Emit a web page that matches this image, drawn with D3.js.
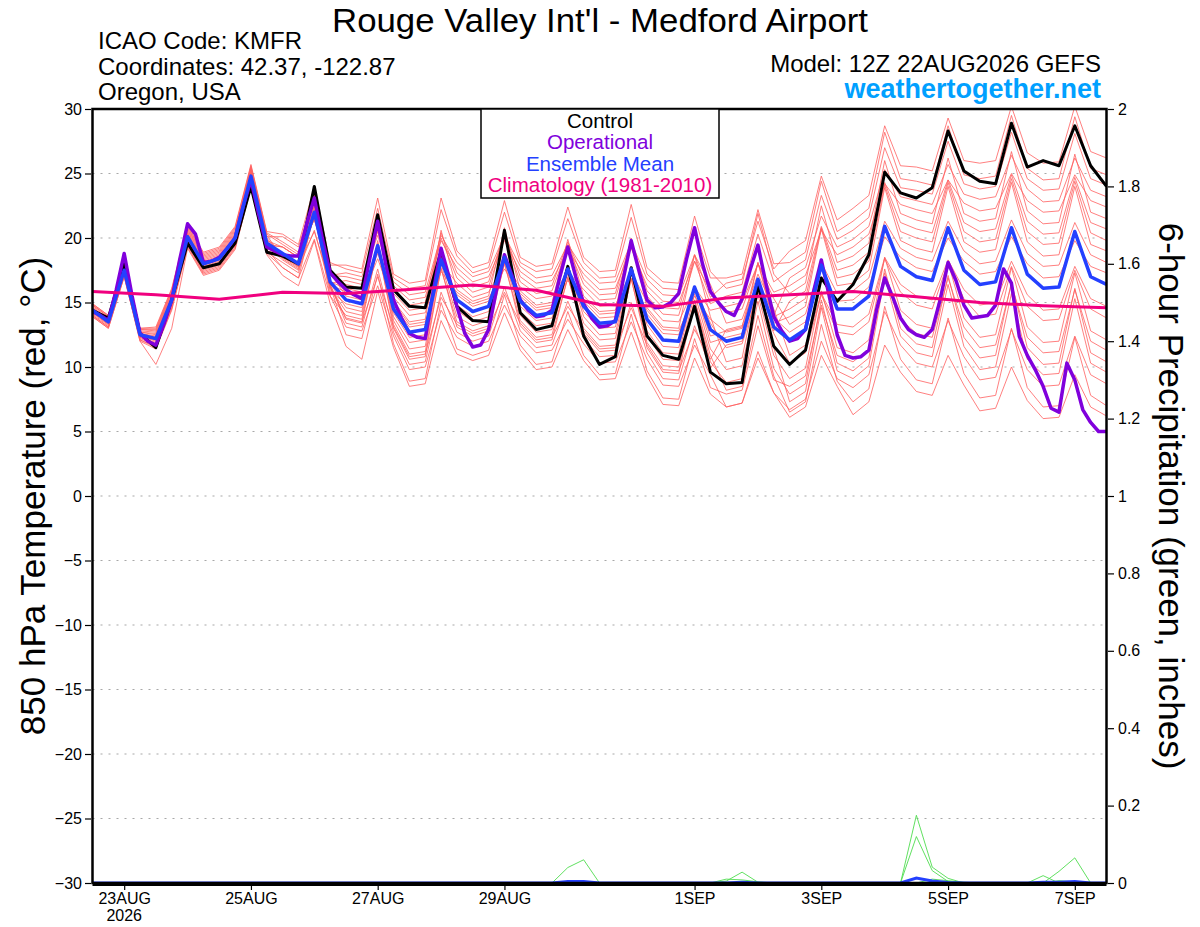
<!DOCTYPE html>
<html>
<head>
<meta charset="utf-8">
<script src="https://cdn.jsdelivr.net/npm/d3@7"></script>
<style>
  body { margin: 0; background: #fff; }
  svg { display: block; font-family: "Liberation Sans", Arial, Helvetica, sans-serif; }
</style>
</head>
<body>
<script>
const runStart = Date.UTC(2026, 7, 22, 12);   // 12Z 22AUG2026
const runEnd = Date.UTC(2026, 8, 7, 12);
const memberStepHours = 6;
const opStepHours = 3;
const climStepHours = 24;

const tickDates = ["2026-08-23", "2026-08-25", "2026-08-27", "2026-08-29",
                   "2026-09-01", "2026-09-03", "2026-09-05", "2026-09-07"];
const tempTicks = [-30, -25, -20, -15, -10, -5, 0, 5, 10, 15, 20, 25, 30];
const precipTicks = [0, 0.2, 0.4, 0.6, 0.8, 1, 1.2, 1.4, 1.6, 1.8, 2];

const controlT = [14.4,13.8,18.0,12.6, 11.5,15.2,19.6,17.7, 18.0,19.6,24.0,18.9, 18.6,18.0,24.0,17.5,
  16.2,16.1,21.8,16.0, 14.7,14.6,19.0,14.7, 13.6,13.5,20.6,14.2, 12.9,13.2,17.8,12.4,
  10.2,10.8,17.7,12.4, 10.9,10.6,14.7,9.6, 8.7,8.8,16.4,11.6, 10.2,11.3,16.9,15.1,
  16.4,18.7,25.1,23.5, 23.1,23.9,28.3,25.2, 24.4,24.2,28.9,25.5, 26.0,25.6,28.7,25.6, 24.0];

// operational run, 3-hourly
const operationalT = [14.3,14.0,13.6,16.0,18.8,15.5,12.6,12.0,11.7,13.3,
  15.2,18.3,21.1,20.3,18.1,18.2,18.5,19.2,20.0,22.4,
  24.5,21.8,19.3,19.0,18.7,18.6,18.6,21.0,23.1,20.0,
  17.3,16.6,16.0,15.6,15.3,18.4,21.3,18.0,15.2,13.8,
  12.6,12.3,12.2,15.8,19.2,17.0,14.7,12.6,11.55,11.7,
  12.9,16.0,18.7,17.0,15.2,14.4,13.9,14.0,14.4,17.0,
  19.3,17.0,14.9,13.8,13.1,13.2,13.6,16.8,19.8,17.4,
  15.2,14.6,14.65,15.0,15.7,18.4,20.8,18.0,15.85,15.0,
  14.3,14.0,15.3,17.5,19.45,16.5,13.9,12.8,12.0,12.2,
  12.9,15.8,18.3,15.5,12.5,10.9,10.7,10.8,11.3,14.5,
  16.9,15.45,13.8,12.9,12.5,12.3,12.9,15.2,18.1,16.7,
  14.8,13.8,13.9,14.0,14.8,17.6,16.5,12.35,10.9,9.8,
  8.5,6.8,6.5,10.3,9.0,6.7,5.7,5.0,5.0];

const meanT = [14.4,13.5,17.5,12.5, 12.2,15.2,20.1,18.0, 18.4,20.0,24.8,19.6, 18.8,18.0,22.0,16.6,
  15.2,14.9,19.4,14.5, 12.7,12.9,18.3,15.2, 14.3,14.7,18.5,15.1, 14.0,14.2,17.6,14.7,
  13.4,13.5,17.6,13.7, 12.1,12.0,16.2,12.9, 12.0,12.3,16.8,13.1, 12.1,12.9,17.9,14.5,
  14.5,15.5,20.9,17.8, 17.0,16.7,20.8,17.5, 16.4,16.6,20.8,17.2, 16.1,16.2,20.5,17.0, 16.4];

// 1981-2010 climatology, daily
const climT = [15.85,15.6,15.25,15.8,15.7,16.0,16.35,15.95,14.85,14.7,15.35,15.6,15.85,15.45,15.0,14.75,14.6];

const member01 = [14.9,14.0,18.0,13.0, 13.1,16.1,21.0,18.9, 19.3,20.9,25.7,20.5, 20.3,19.5,24.0,18.1, 17.6,17.3,22.3,16.9, 16.1,16.3,22.2,18.6, 17.3,17.7,22.0,18.1, 17.4,17.6,21.5,18.1, 16.9,17.0,21.6,17.2, 16.1,16.0,20.7,16.9, 16.9,17.2,22.2,18.0, 18.1,18.9,24.4,20.5, 21.3,22.3,28.2,24.6, 24.4,24.1,28.7,24.9, 24.6,24.8,29.5,25.4, 24.5,24.6,29.4,25.4, 24.9];
const member02 = [13.9,13.0,17.0,12.0, 10.2,13.0,19.2,17.1, 17.5,19.1,23.9,18.7, 17.1,16.3,19.8,14.9, 11.6,10.6,15.9,11.5, 8.5,8.7,13.6,11.0, 10.5,10.9,14.2,11.3, 9.8,10.0,12.9,10.5, 9.0,9.1,12.7,9.3, 7.1,7.0,10.7,7.9, 6.9,7.2,11.2,8.0, 6.7,7.5,12.0,9.1, 8.4,9.4,14.3,11.7, 10.3,10.0,13.6,10.8, 9.0,9.2,12.9,9.8, 8.5,8.6,12.4,9.4, 8.7];
const member03 = [14.7,13.8,17.8,12.8, 12.7,15.7,20.6,18.5, 18.9,20.5,25.3,20.1, 20.1,19.3,23.3,17.9, 17.9,17.6,23.1,17.2, 16.5,16.7,23.1,19.0, 17.7,18.1,22.9,18.5, 17.8,18.0,22.4,18.5, 17.4,17.5,22.6,17.7, 16.6,16.5,21.7,17.4, 16.1,16.4,21.9,17.2, 15.7,16.5,22.5,18.1, 18.6,19.6,26.0,21.9, 21.4,21.1,26.2,21.9, 21.3,21.5,26.7,22.1, 21.1,21.2,26.5,22.0, 21.5];
const member04 = [14.1,13.2,17.2,12.2, 11.7,14.7,19.6,17.5, 17.9,19.5,24.3,19.1, 17.7,16.9,19.9,15.5, 13.1,12.8,16.3,12.4, 9.8,10.0,14.4,12.3, 11.6,12.0,14.8,12.4, 11.1,11.3,13.7,11.8, 10.3,10.4,13.5,10.6, 8.6,8.5,11.7,9.4, 6.9,7.2,10.7,8.0, 6.1,6.9,10.9,8.5, 6.3,7.3,11.7,9.6, 8.1,7.8,10.9,8.6, 6.6,6.8,10.0,7.4, 6.0,6.1,9.4,6.9, 6.2];
const member05 = [14.5,13.6,17.6,12.6, 12.4,15.4,20.3,18.2, 18.6,20.2,25.0,19.8, 19.3,18.5,22.5,17.1, 16.4,16.1,20.6,15.7, 14.4,14.6,20.0,16.9, 15.8,16.2,20.0,16.6, 15.7,15.9,19.3,16.4, 15.2,15.3,19.4,15.5, 14.1,14.0,18.2,14.9, 15.5,15.8,20.3,16.6, 17.5,18.3,23.3,19.9, 20.6,21.6,27.0,23.9, 23.7,23.4,27.5,24.2, 23.8,24.0,28.2,24.6, 23.7,23.8,28.1,24.6, 24.1];
const member06 = [14.3,13.4,17.4,12.4, 12.0,15.0,19.9,17.8, 18.2,19.8,24.6,19.4, 18.3,17.5,22.5,16.1, 14.3,14.0,19.5,13.6, 11.4,11.6,18.0,13.9, 13.2,13.6,18.4,14.0, 12.7,12.9,17.3,13.4, 12.1,12.2,17.3,12.4, 10.6,10.5,15.7,11.4, 9.8,10.1,15.6,10.9, 9.1,9.9,15.9,11.5, 11.1,12.1,18.5,14.4, 13.3,13.0,18.1,13.8, 12.3,12.5,17.7,13.1, 11.9,12.0,17.3,12.8, 12.1];
const member07 = [14.8,13.9,17.9,12.9, 12.9,15.9,20.8,18.7, 19.1,20.7,25.5,20.3, 19.5,18.7,22.2,17.3, 15.5,15.2,19.2,14.8, 13.1,13.3,18.2,15.6, 14.7,15.1,18.4,15.5, 14.4,14.6,17.5,15.1, 13.8,13.9,17.5,14.1, 12.6,12.5,16.2,13.4, 11.5,11.8,15.8,12.6, 10.3,11.1,15.6,12.7, 12.5,13.5,18.4,15.8, 14.8,14.5,18.1,15.3, 13.9,14.1,17.8,14.7, 13.6,13.7,17.5,14.5, 13.8];
const member08 = [14.0,13.1,17.1,12.1, 11.5,14.5,19.4,17.3, 17.7,19.3,24.1,18.9, 18.1,17.3,21.8,15.9, 14.9,14.6,19.6,14.2, 12.3,12.5,18.4,14.8, 13.9,14.3,18.6,14.7, 13.6,13.8,17.7,14.3, 13.0,13.1,17.7,13.3, 11.6,11.5,16.2,12.4, 12.8,13.1,18.1,13.9, 14.5,15.3,20.8,16.9, 17.2,18.2,24.1,20.5, 20.0,19.7,24.3,20.5, 19.7,19.9,24.6,20.5, 19.5,19.6,24.4,20.4, 19.8];
const member09 = [14.3,13.4,17.7,12.4, 12.1,15.3,20.3,17.9, 18.3,19.9,24.9,19.5, 19.3,18.5,21.5,17.1, 17.0,16.7,20.2,16.3, 15.2,15.4,19.8,17.7, 16.6,17.0,19.8,17.4, 16.5,16.7,19.1,17.2, 16.0,16.1,19.2,16.3, 15.1,15.0,18.2,15.9, 14.2,14.5,18.0,15.3, 13.3,14.1,18.1,15.7, 15.9,16.9,21.3,19.2, 18.5,18.2,21.3,19.0, 18.0,18.2,21.4,18.8, 17.8,17.9,21.2,18.7, 18.1];
const member10 = [14.6,13.7,17.7,12.7, 12.5,15.5,20.4,18.3, 18.7,20.3,25.1,19.9, 18.6,17.8,23.3,16.4, 13.7,13.4,19.4,13.0, 10.6,10.8,17.7,13.1, 12.4,12.8,18.1,13.2, 11.9,12.1,17.0,12.6, 11.2,11.3,16.9,11.5, 9.6,9.5,15.2,10.4, 8.8,9.1,15.1,9.9, 7.9,8.7,15.2,10.3, 9.7,10.7,17.6,13.0, 11.8,11.5,17.1,12.3, 10.7,10.9,16.6,11.5, 10.2,10.3,16.1,11.1, 10.4];
const member11 = [14.2,13.3,17.3,12.3, 11.9,14.9,19.8,17.7, 18.1,19.7,24.5,19.3, 18.8,18.0,20.5,16.6, 16.1,15.8,18.8,15.4, 14.0,14.2,18.1,16.5, 15.4,15.8,18.1,16.2, 15.3,15.5,17.4,16.0, 14.7,14.8,17.4,15.0, 13.6,13.5,16.2,14.4, 14.7,15.0,18.0,15.8, 16.3,17.1,20.6,18.7, 19.3,20.3,24.2,22.6, 22.2,21.9,24.5,22.7, 22.1,22.3,25.0,22.9, 22.0,22.1,24.9,22.9, 22.4];
const member12 = [14.8,13.9,17.9,12.9, 12.8,15.8,20.7,18.6, 19.0,20.6,25.4,20.2, 18.5,17.7,22.2,16.3, 12.5,12.2,17.2,11.8, 8.9,9.1,15.0,11.4, 10.9,11.3,15.6,11.7, 10.2,10.4,14.3,10.9, 9.4,9.5,14.1,9.7, 7.6,7.5,12.2,8.4, 7.9,8.2,13.2,9.0, 8.5,9.3,14.8,10.9, 10.4,11.4,17.3,13.7, 12.6,12.3,16.9,13.1, 11.5,11.7,16.4,12.3, 11.1,11.2,16.0,12.0, 11.3];
const member13 = [14.0,13.1,17.1,12.1, 11.6,14.6,19.5,17.4, 17.8,19.4,24.2,19.0, 18.7,17.9,21.9,16.5, 16.7,16.4,20.9,16.0, 14.8,15.0,20.4,17.3, 16.2,16.6,20.4,17.0, 16.1,16.3,19.7,16.8, 15.6,15.7,19.8,15.9, 14.6,14.5,18.7,15.4, 16.5,16.8,21.3,17.6, 19.0,19.8,24.8,21.4, 22.3,23.3,28.7,25.6, 25.5,25.2,29.3,26.0, 25.8,26.0,30.2,26.6, 25.8,25.9,30.2,26.7, 26.2];
const member14 = [14.5,13.6,17.6,12.6, 12.3,15.3,20.2,18.1, 18.5,20.1,24.9,19.7, 18.7,17.9,22.9,16.5, 14.6,14.3,19.8,13.9, 11.9,12.1,18.5,14.4, 13.5,13.9,18.7,14.3, 13.2,13.4,17.8,13.9, 12.5,12.6,17.7,12.8, 11.1,11.0,16.2,11.9, 12.3,12.6,18.1,13.4, 13.9,14.7,20.7,16.3, 16.5,17.5,23.9,19.8, 19.2,18.9,24.0,19.7, 18.9,19.1,24.3,19.7, 18.6,18.7,24.0,19.5, 19.0];
const member15 = [14.3,13.4,17.4,12.4, 12.1,15.1,20.0,17.9, 18.3,19.9,24.7,19.5, 19.3,18.5,21.5,17.1, 17.3,17.0,20.5,16.6, 15.6,15.8,20.2,18.1, 17.0,17.4,20.2,17.8, 16.9,17.1,19.5,17.6, 16.5,16.6,19.7,16.8, 15.6,15.5,18.7,16.4, 13.4,13.7,17.2,14.5, 10.9,11.7,15.7,13.3, 13.1,14.1,18.5,16.4, 15.5,15.2,18.3,16.0, 14.8,15.0,18.2,15.6, 14.4,14.5,17.8,15.3, 14.7];
const member16 = [14.6,13.7,17.7,12.7, 12.6,15.6,20.5,18.4, 18.8,20.4,25.2,20.0, 18.6,17.8,21.8,16.4, 13.4,13.1,17.6,12.7, 10.2,10.4,15.8,12.7, 12.0,12.4,16.2,12.8, 11.5,11.7,15.1,12.2, 10.8,10.9,15.0,11.1, 9.1,9.0,13.2,9.9, 11.7,12.0,16.5,12.8, 15.1,15.9,20.9,17.5, 17.9,18.9,24.3,21.2, 20.7,20.4,24.5,21.2, 20.5,20.7,24.9,21.3, 20.3,20.4,24.7,21.2, 20.7];
const member17 = [14.2,13.3,17.3,12.3, 11.8,14.8,19.7,17.6, 18.0,19.6,24.4,19.2, 18.6,17.8,23.3,16.4, 15.8,15.5,21.5,15.1, 13.5,13.7,20.6,16.0, 15.1,15.5,20.8,15.9, 14.8,15.0,19.9,15.5, 14.3,14.4,20.0,14.6, 13.1,13.0,18.7,13.9, 10.4,10.7,16.7,11.5, 7.3,8.1,14.6,9.7, 9.1,10.1,17.0,12.4, 11.1,10.8,16.4,11.6, 9.8,10.0,15.7,10.6, 9.4,9.5,15.3,10.3, 9.6];
const member18 = [14.9,14.0,18.0,13.0, 13.0,16.0,20.9,18.8, 19.2,20.8,25.6,20.4, 19.7,18.9,21.4,17.5, 15.7,15.4,18.4,15.0, 13.3,13.5,17.4,15.8, 14.9,15.3,17.6,15.7, 14.6,14.8,16.7,15.3, 14.1,14.2,16.8,14.4, 12.9,12.8,15.5,13.7, 12.7,13.0,16.0,13.8, 12.7,13.5,17.0,15.1, 15.2,16.2,20.1,18.5, 17.7,17.4,20.0,18.2, 17.2,17.4,20.1,18.0, 16.9,17.0,19.8,17.8, 17.3];
const member19 = [13.9,13.0,17.0,12.0, 11.4,14.4,19.3,17.2, 17.6,19.2,24.0,18.8, 17.7,16.9,21.9,15.5, 14.0,13.7,19.2,13.3, 11.0,11.2,17.6,13.5, 12.8,13.2,18.0,13.6, 12.3,12.5,16.9,13.0, 11.6,11.7,16.8,11.9, 10.1,10.0,15.2,10.9, 8.2,8.5,14.0,9.3, 6.5,7.3,13.3,8.9, 7.3,8.3,14.7,10.6, 9.0,8.7,13.8,9.5, 7.6,7.8,13.0,8.4, 6.9,7.0,12.3,7.8, 7.0];
const member20 = [14.5,13.6,17.6,12.6, 12.1,15.1,20.0,17.9, 18.5,20.1,24.9,19.7, 18.4,17.6,20.6,16.2, 13.8,13.5,17.0,13.1, 10.8,11.0,15.4,13.3, 12.6,13.0,15.8,13.4, 12.1,12.3,14.7,12.8, 11.4,11.5,14.6,11.7, 9.8,9.7,12.9,10.6, 12.9,13.2,16.7,14.0, 16.9,17.7,21.7,19.3, 19.9,20.9,25.3,23.2, 22.9,22.6,25.7,23.4, 23.0,23.2,26.4,23.8, 22.8,22.9,26.2,23.7, 23.2];

const members = [member01, member02, member03, member04, member05, member06, member07, member08, member09, member10,
                 member11, member12, member13, member14, member15, member16, member17, member18, member19, member20];

// 6-hour precipitation, [6h step index, inches]; dry stretches are 0
const precipMembers = [
  [[0, 0], [29, 0], [30, 0.04], [31, 0.06], [32, 0], [64, 0]],
  [[0, 0], [39, 0], [40, 0.005], [41, 0.028], [42, 0.002], [43, 0], [64, 0]],
  [[0, 0], [39, 0], [40, 0.01], [41, 0.008], [42, 0.003], [43, 0], [64, 0]],
  [[0, 0], [51, 0], [52, 0.175], [53, 0.041], [54, 0.012], [55, 0], [64, 0]],
  [[0, 0], [51, 0], [52, 0.12], [53, 0.032], [54, 0.004], [55, 0], [64, 0]],
  [[0, 0], [52, 0], [53, 0.01], [54, 0.006], [55, 0.002], [56, 0], [64, 0]],
  [[0, 0], [59, 0], [60, 0.019], [61, 0], [64, 0]],
  [[0, 0], [60, 0], [61, 0.03], [62, 0.065], [63, 0], [64, 0]],
  [[0, 0], [60, 0], [61, 0.006], [62, 0.003], [63, 0], [64, 0]]
];
const precipMean = [[0, 0], [29, 0], [30, 0.004], [31, 0.004], [32, 0], [40, 0], [41, 0.002], [42, 0],
  [51, 0], [52, 0.013], [53, 0.005], [54, 0.001], [55, 0], [59, 0], [60, 0.002], [61, 0.002], [62, 0.004], [63, 0], [64, 0]];

// ---- layout ----
const W = 1200, H = 927;
const plot = { left: 92.5, right: 1106.5, top: 109, bottom: 883 };

const svg = d3.select("body").append("svg")
  .attr("width", W).attr("height", H);

svg.append("rect").attr("width", W).attr("height", H).attr("fill", "#fff");

const hour = 3600 * 1000;
const x = d3.scaleUtc()
  .domain([new Date(runStart), new Date(runEnd)])
  .range([plot.left, plot.right]);
const yT = d3.scaleLinear().domain([-30, 30]).range([plot.bottom, plot.top]);
const yP = d3.scaleLinear().domain([0, 2]).range([plot.bottom, plot.top]);

const timeAt = (i, step) => new Date(runStart + i * step * hour);

svg.append("clipPath").attr("id", "plotClip")
  .append("rect")
  .attr("x", plot.left).attr("y", plot.top)
  .attr("width", plot.right - plot.left).attr("height", plot.bottom - plot.top);

// dotted grid at the temperature ticks
svg.append("g")
  .selectAll("line")
  .data(tempTicks.filter(t => t > -30 && t < 30))
  .join("line")
  .attr("x1", plot.left).attr("x2", plot.right)
  .attr("y1", d => yT(d)).attr("y2", d => yT(d))
  .attr("stroke", "#a8a8a8")
  .attr("stroke-width", 1.2)
  .attr("stroke-dasharray", "2,6");

const lines = svg.append("g").attr("clip-path", "url(#plotClip)");

const line6 = d3.line().x((d, i) => x(timeAt(i, memberStepHours))).y(d => yT(d));
const line3 = d3.line().x((d, i) => x(timeAt(i, opStepHours))).y(d => yT(d));
const lineClim = d3.line().x((d, i) => x(timeAt(i, climStepHours))).y(d => yT(d));
const lineP = d3.line().x(d => x(timeAt(d[0], memberStepHours))).y(d => yP(d[1]));

// ensemble members
lines.selectAll(".member")
  .data(members)
  .join("path")
  .attr("class", "member")
  .attr("d", line6)
  .attr("fill", "none")
  .attr("stroke", "#ff5f5f")
  .attr("stroke-width", 0.8);

// precipitation
lines.selectAll(".precip")
  .data(precipMembers)
  .join("path")
  .attr("class", "precip")
  .attr("d", lineP)
  .attr("fill", "none")
  .attr("stroke", "#4fdc4f")
  .attr("stroke-width", 0.9);

lines.append("path")
  .datum(precipMean)
  .attr("d", lineP)
  .attr("fill", "none")
  .attr("stroke", "#2440ff")
  .attr("stroke-width", 3);

// control, operational, mean, climatology
lines.append("path").datum(controlT).attr("d", line6)
  .attr("fill", "none").attr("stroke", "#000").attr("stroke-width", 3)
  .attr("stroke-linejoin", "round");

lines.append("path").datum(operationalT).attr("d", line3)
  .attr("fill", "none").attr("stroke", "#8000dc").attr("stroke-width", 3.5)
  .attr("stroke-linejoin", "round");

lines.append("path").datum(meanT).attr("d", line6)
  .attr("fill", "none").attr("stroke", "#2440ff").attr("stroke-width", 3.5)
  .attr("stroke-linejoin", "round");

lines.append("path").datum(climT).attr("d", lineClim)
  .attr("fill", "none").attr("stroke", "#f0007f").attr("stroke-width", 3)
  .attr("stroke-linejoin", "round");

// frame
svg.append("rect")
  .attr("x", plot.left).attr("y", plot.top)
  .attr("width", plot.right - plot.left).attr("height", plot.bottom - plot.top)
  .attr("fill", "none").attr("stroke", "#000").attr("stroke-width", 2.5);
svg.append("line")
  .attr("x1", plot.left).attr("x2", plot.right)
  .attr("y1", plot.bottom + 1.5).attr("y2", plot.bottom + 1.5)
  .attr("stroke", "#000").attr("stroke-width", 3);

// axes
const leftAxis = svg.append("g")
  .attr("transform", `translate(${plot.left - 1.5},0)`)
  .call(d3.axisLeft(yT).tickValues(tempTicks).tickSize(6).tickPadding(3).tickFormat(d3.format("d")));

const rightAxis = svg.append("g")
  .attr("transform", `translate(${plot.right + 1.5},0)`)
  .call(d3.axisRight(yP).tickValues(precipTicks).tickSize(6).tickPadding(4).tickFormat(d => String(+d.toFixed(1))));

const fmtDay = d3.utcFormat("%-d%b");
const bottomAxis = svg.append("g")
  .attr("transform", `translate(0,${plot.bottom + 1})`)
  .call(d3.axisBottom(x)
    .tickValues(tickDates.map(s => new Date(s + "T00:00:00Z")))
    .tickSize(6).tickPadding(3)
    .tickFormat(d => fmtDay(d).toUpperCase()));

[leftAxis, rightAxis, bottomAxis].forEach(g => {
  g.select(".domain").remove();
  g.selectAll(".tick line").attr("stroke", "#000").attr("stroke-width", 1.2);
  g.selectAll(".tick text")
    .attr("fill", "#000")
    .style("font-size", "16px")
    .style("font-family", '"Liberation Sans", Arial, sans-serif');
});

// year under the first date label
bottomAxis.append("text")
  .attr("x", x(new Date(tickDates[0] + "T00:00:00Z")))
  .attr("y", 37)
  .attr("text-anchor", "middle")
  .attr("fill", "#000")
  .style("font-size", "16px")
  .text("2026");

// axis titles
svg.append("text")
  .attr("transform", `translate(45,${(plot.top + plot.bottom) / 2}) rotate(-90)`)
  .attr("text-anchor", "middle")
  .style("font-size", "35px")
  .text("850 hPa Temperature (red, °C)");

svg.append("text")
  .attr("transform", `translate(1159,${(plot.top + plot.bottom) / 2}) rotate(90)`)
  .attr("text-anchor", "middle")
  .style("font-size", "35px")
  .text("6-hour Precipitation (green, inches)");

// header
svg.append("text")
  .attr("x", 600).attr("y", 32)
  .attr("text-anchor", "middle")
  .style("font-size", "34px")
  .attr("textLength", 536)
  .attr("lengthAdjust", "spacingAndGlyphs")
  .text("Rouge Valley Int'l - Medford Airport");

const info = ["ICAO Code: KMFR", "Coordinates: 42.37, -122.87", "Oregon, USA"];
svg.append("g").selectAll("text")
  .data(info)
  .join("text")
  .attr("x", 98)
  .attr("y", (d, i) => 49 + i * 25.7)
  .style("font-size", "24px")
  .text(d => d);

svg.append("text")
  .attr("x", 1101).attr("y", 72)
  .attr("text-anchor", "end")
  .style("font-size", "24px")
  .text("Model: 12Z 22AUG2026 GEFS");

svg.append("text")
  .attr("x", 1101).attr("y", 98)
  .attr("text-anchor", "end")
  .style("font-size", "27px")
  .style("font-weight", "bold")
  .attr("fill", "#00a0ff")
  .text("weathertogether.net");

// legend
const legendItems = [
  { label: "Control", color: "#000" },
  { label: "Operational", color: "#8000dc" },
  { label: "Ensemble Mean", color: "#2440ff" },
  { label: "Climatology (1981-2010)", color: "#f0007f" }
];
const legend = svg.append("g");
legend.append("rect")
  .attr("x", 481).attr("y", plot.top)
  .attr("width", 238).attr("height", 89)
  .attr("fill", "#fff").attr("stroke", "#000").attr("stroke-width", 1.5);
legend.selectAll("text")
  .data(legendItems)
  .join("text")
  .attr("x", 600)
  .attr("y", (d, i) => 127.5 + i * 21.6)
  .attr("text-anchor", "middle")
  .attr("fill", d => d.color)
  .style("font-size", "20.5px")
  .text(d => d.label);
</script>
</body>
</html>
